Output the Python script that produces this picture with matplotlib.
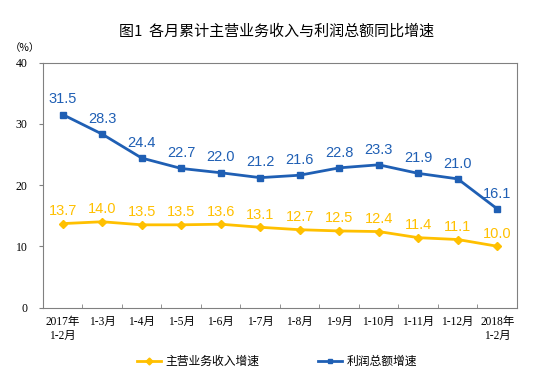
import matplotlib
matplotlib.use("Agg")
import matplotlib.pyplot as plt
from matplotlib.lines import Line2D

categories = ["2017年\n1-2月", "1-3月", "1-4月", "1-5月", "1-6月", "1-7月", "1-8月",
              "1-9月", "1-10月", "1-11月", "1-12月", "2018年\n1-2月"]
revenue = [13.7, 14.0, 13.5, 13.5, 13.6, 13.1, 12.7, 12.5, 12.4, 11.4, 11.1, 10.0]
profit = [31.5, 28.3, 24.4, 22.7, 22.0, 21.2, 21.6, 22.8, 23.3, 21.9, 21.0, 16.1]
yticks = [0, 10, 20, 30, 40]

BLUE = "#1F5FB4"
YELLOW = "#FFC000"
TICKFONT = ["Liberation Serif", "Noto Sans CJK SC"]
CJK = ["Noto Sans CJK SC", "DejaVu Sans"]

fig = plt.figure(figsize=(5.54, 3.73), dpi=100)
ax = fig.add_axes([0.0776, 0.1756, 0.8556, 0.6568])

x = list(range(len(categories)))
ax.plot(x, revenue, color=YELLOW, lw=2, marker="D", ms=4, zorder=3)
ax.plot(x, profit, color=BLUE, lw=2, marker="s", ms=4, zorder=3)

for xi, v in zip(x, revenue):
    ax.annotate(f"{v:.1f}", (xi, v), xytext=(0, 9), textcoords="offset points",
                ha="center", va="center", color=YELLOW, fontsize=10.5,
                family="Liberation Sans")
for xi, v in zip(x, profit):
    ax.annotate(f"{v:.1f}", (xi, v), xytext=(0, 11), textcoords="offset points",
                ha="center", va="center", color=BLUE, fontsize=10.5,
                family="Liberation Sans")

ax.set_xlim(-0.5, len(categories) - 0.5)
ax.set_ylim(0, 40)
ax.set_yticks(yticks)
ax.set_yticklabels([str(t) for t in yticks], family=TICKFONT, fontsize=8.5)
ax.tick_params(axis="y", length=3, direction="out", color="#808080", pad=8)

ax.set_xticks(x)
ax.set_xticklabels(categories, family=TICKFONT, fontsize=8.3, linespacing=1.25)
ax.tick_params(axis="x", which="major", length=0, pad=6)
ax.set_xticks([i + 0.5 for i in x[:-1]], minor=True)
ax.tick_params(axis="x", which="minor", length=3, direction="in", color="#808080")
for lab in ax.get_xticklabels():
    lab.set_verticalalignment("top")

for s in ax.spines.values():
    s.set_color("#808080")
    s.set_linewidth(0.8)

fig.text(0.5, 0.915, "图1  各月累计主营业务收入与利润总额同比增速", ha="center",
         va="center", fontsize=10.8, family=CJK)
fig.text(0.045, 0.87, "（%）", ha="center", va="center", fontsize=7.5, family=CJK)

handles = [Line2D([], [], color=YELLOW, lw=2, marker="D", ms=3.5),
           Line2D([], [], color=BLUE, lw=2, marker="s", ms=3.5)]
fig.legend(handles, ["主营业务收入增速", "利润总额增速"], loc="center",
           bbox_to_anchor=(0.5, 0.03), ncol=2, frameon=False, handlelength=2.0,
           handletextpad=0.4, columnspacing=5, prop={"family": CJK, "size": 8.5})

fig.savefig("out.png", dpi=100)
